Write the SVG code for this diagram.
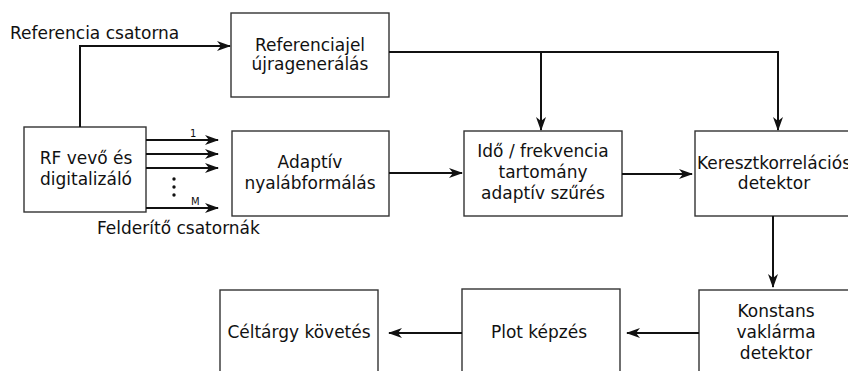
<svg xmlns="http://www.w3.org/2000/svg" width="848" height="371" viewBox="0 0 848 371">
<style>
.box{fill:#fff;stroke:#333;stroke-width:1.4}
.t{font-family:"DejaVu Sans",sans-serif;font-size:17px;fill:#111;text-anchor:middle}
.l{font-family:"DejaVu Sans",sans-serif;font-size:17px;fill:#111}
.s{font-family:"DejaVu Sans",sans-serif;font-size:10px;fill:#111}
.c{fill:none;stroke:#111;stroke-width:2}
</style>
<defs>
<marker id="a" markerWidth="14" markerHeight="10" refX="13" refY="5" orient="auto" markerUnits="userSpaceOnUse">
<path d="M0,0 L14,5 L0,10 L4,5 Z" fill="#111"/>
</marker>
</defs>
<g id="ref"><rect class="box" x="231" y="13" width="158" height="84"/><text class="t" x="310" y="51">Referenciajel</text><text class="t" x="310" y="70">újragenerálás</text></g>
<g id="rf"><rect class="box" x="24" y="127" width="122" height="85"/><text class="t" x="86" y="164">RF vevő és</text><text class="t" x="86" y="185">digitalizáló</text></g>
<g id="adapt"><rect class="box" x="232" y="131" width="157" height="85"/><text class="t" x="310" y="168">Adaptív</text><text class="t" x="310" y="189">nyalábformálás</text></g>
<g id="ido"><rect class="box" x="464" y="131" width="158" height="85"/><text class="t" x="543" y="157">Idő / frekvencia</text><text class="t" x="543" y="178">tartomány</text><text class="t" x="543" y="199">adaptív szűrés</text></g>
<g id="kereszt"><rect class="box" x="695" y="131" width="160" height="85"/><text class="t" x="774" y="169">Keresztkorrelációs</text><text class="t" x="774" y="189">detektor</text></g>
<g id="konst"><rect class="box" x="699" y="290" width="160" height="90"/><text class="t" x="776" y="317">Konstans</text><text class="t" x="776" y="338">vaklárma</text><text class="t" x="776" y="359">detektor</text></g>
<g id="plot"><rect class="box" x="462" y="289" width="158" height="90"/><text class="t" x="539" y="338">Plot képzés</text></g>
<g id="cel"><rect class="box" x="220" y="290" width="158" height="90"/><text class="t" x="299" y="338">Céltárgy követés</text></g>
<g id="labels">
<text class="l" x="10" y="39">Referencia csatorna</text>
<text class="l" x="97" y="234">Felderítő csatornák</text>
<text class="s" x="190" y="137">1</text>
<text class="s" x="191" y="205">M</text>
<circle cx="174" cy="179" r="1.7" fill="#111"/><circle cx="174" cy="187" r="1.7" fill="#111"/><circle cx="174" cy="195" r="1.7" fill="#111"/>
</g>
<g id="connectors">
<path class="c" d="M80,127 V46 H230" marker-end="url(#a)"/>
<path class="c" d="M389,52 H778 V130" marker-end="url(#a)"/>
<path class="c" d="M541,52 V130" marker-end="url(#a)"/>
<path class="c" d="M146,140 H218" marker-end="url(#a)"/>
<path class="c" d="M146,154 H218" marker-end="url(#a)"/>
<path class="c" d="M146,168 H218" marker-end="url(#a)"/>
<path class="c" d="M146,208 H218" marker-end="url(#a)"/>
<path class="c" d="M389,173 H462" marker-end="url(#a)"/>
<path class="c" d="M622,174 H692" marker-end="url(#a)"/>
<path class="c" d="M773,216 V287" marker-end="url(#a)"/>
<path class="c" d="M699,333 H627" marker-end="url(#a)"/>
<path class="c" d="M462,333 H389" marker-end="url(#a)"/>
</g>
</svg>
